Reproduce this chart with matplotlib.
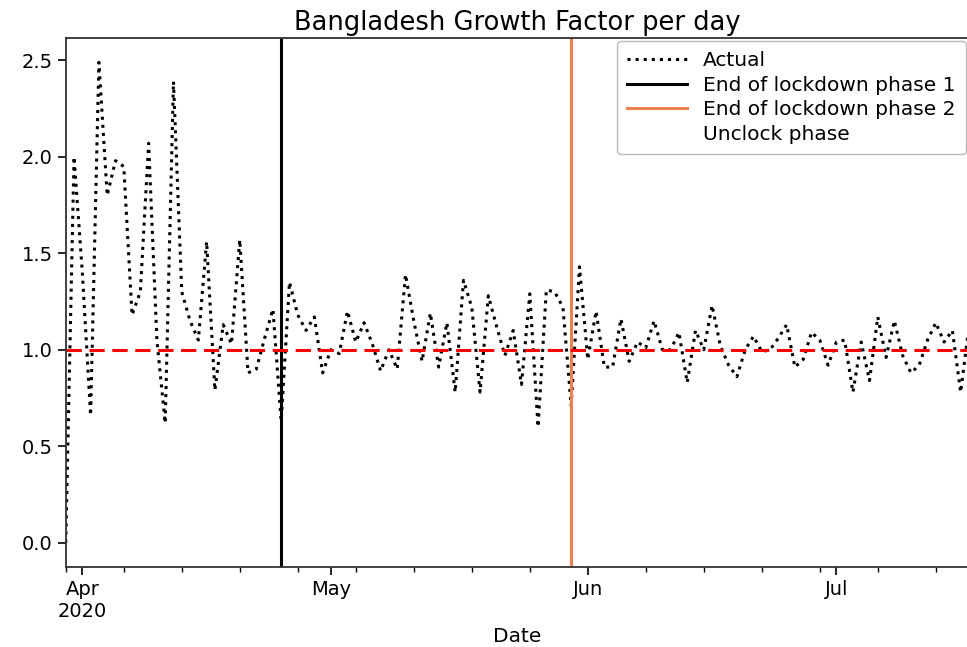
import pandas as pd
import numpy as np
import matplotlib
matplotlib.use("Agg")
import matplotlib.pyplot as plt
import matplotlib.dates as mdates
from matplotlib.lines import Line2D

start_date = "2020-03-30"
growth_factor = [
    0.00, 2.00, 1.40, 0.66, 2.49, 1.80, 1.98, 1.95, 1.18, 1.30,
    2.07, 1.05, 0.62, 2.39, 1.30, 1.15, 1.05, 1.56, 0.79, 1.13,
    1.03, 1.57, 0.88, 0.90, 1.06, 1.21, 0.63, 1.35, 1.18, 1.10,
    1.17, 0.88, 1.00, 0.98, 1.20, 1.04, 1.14, 1.03, 0.89, 1.00,
    0.90, 1.39, 1.15, 0.94, 1.19, 0.91, 1.14, 0.78, 1.36, 1.22,
    0.78, 1.28, 1.12, 0.97, 1.10, 0.82, 1.29, 0.60, 1.31, 1.30,
    1.22, 0.71, 1.43, 0.95, 1.20, 0.91, 0.91, 1.16, 0.94, 1.04,
    1.01, 1.15, 1.00, 1.00, 1.09, 0.83, 1.10, 1.00, 1.23, 1.02,
    0.92, 0.86, 1.00, 1.07, 0.99, 1.00, 1.06, 1.13, 0.91, 0.95,
    1.09, 1.05, 0.92, 1.04, 1.05, 0.78, 1.04, 0.84, 1.17, 0.96,
    1.15, 0.97, 0.88, 0.92, 1.05, 1.14, 1.04, 1.10, 0.78, 1.12,
]
lockdown_end_1 = "2020-04-25"
lockdown_end_2 = "2020-05-30"
month_ticks = ["2020-04-01", "2020-05-01", "2020-06-01", "2020-07-01"]
month_labels = ["Apr\n2020", "May", "Jun", "Jul"]

dates = pd.date_range(start_date, periods=len(growth_factor), freq="D")
gf = pd.Series(growth_factor, index=dates)

fig = plt.figure(figsize=(9.67, 6.47), dpi=100)
ax = fig.add_axes([0.068, 0.124, 0.934, 0.817])

ax.plot(gf.index, gf.values, ":", color="black", lw=2.2, label="Actual")
ax.axvline(pd.Timestamp(lockdown_end_1), color="black", lw=2.2, label="End of lockdown phase 1")
ax.axvline(pd.Timestamp(lockdown_end_2), color="#f07f4f", lw=2.2, label="End of lockdown phase 2")
ax.axhline(1.0, color="red", ls="--", lw=2.2, dashes=(5, 2.5))

ax.set_xlim(dates[0], dates[-1])
ax.set_ylim(-0.125, 2.615)
ax.set_yticks([0.0, 0.5, 1.0, 1.5, 2.0, 2.5])

ax.set_xticks(pd.to_datetime(month_ticks))
ax.set_xticklabels(month_labels)
ax.xaxis.set_minor_locator(mdates.WeekdayLocator(byweekday=mdates.MO))
ax.tick_params(axis="both", which="major", labelsize=14, length=6, width=1.2)
ax.tick_params(axis="x", which="minor", length=3.5, width=1.0)
for s in ax.spines.values():
    s.set_linewidth(1.3)
    s.set_color("#333333")

ax.set_xlabel("Date", fontsize=14.5)
ax.set_title("Bangladesh Growth Factor per day", fontsize=18.5)

# last entry has no visible handle, like the original
handles, labels = ax.get_legend_handles_labels()
handles.append(Line2D([], [], color="none"))
labels.append("Unclock phase")
ax.legend(handles, labels, loc="upper right", fontsize=14.5, borderaxespad=0.15,
          handlelength=3.0, handletextpad=0.8, borderpad=0.5, labelspacing=0.27,
          framealpha=1.0, edgecolor="#bbbbbb")

plt.savefig("out.png", dpi=100)
